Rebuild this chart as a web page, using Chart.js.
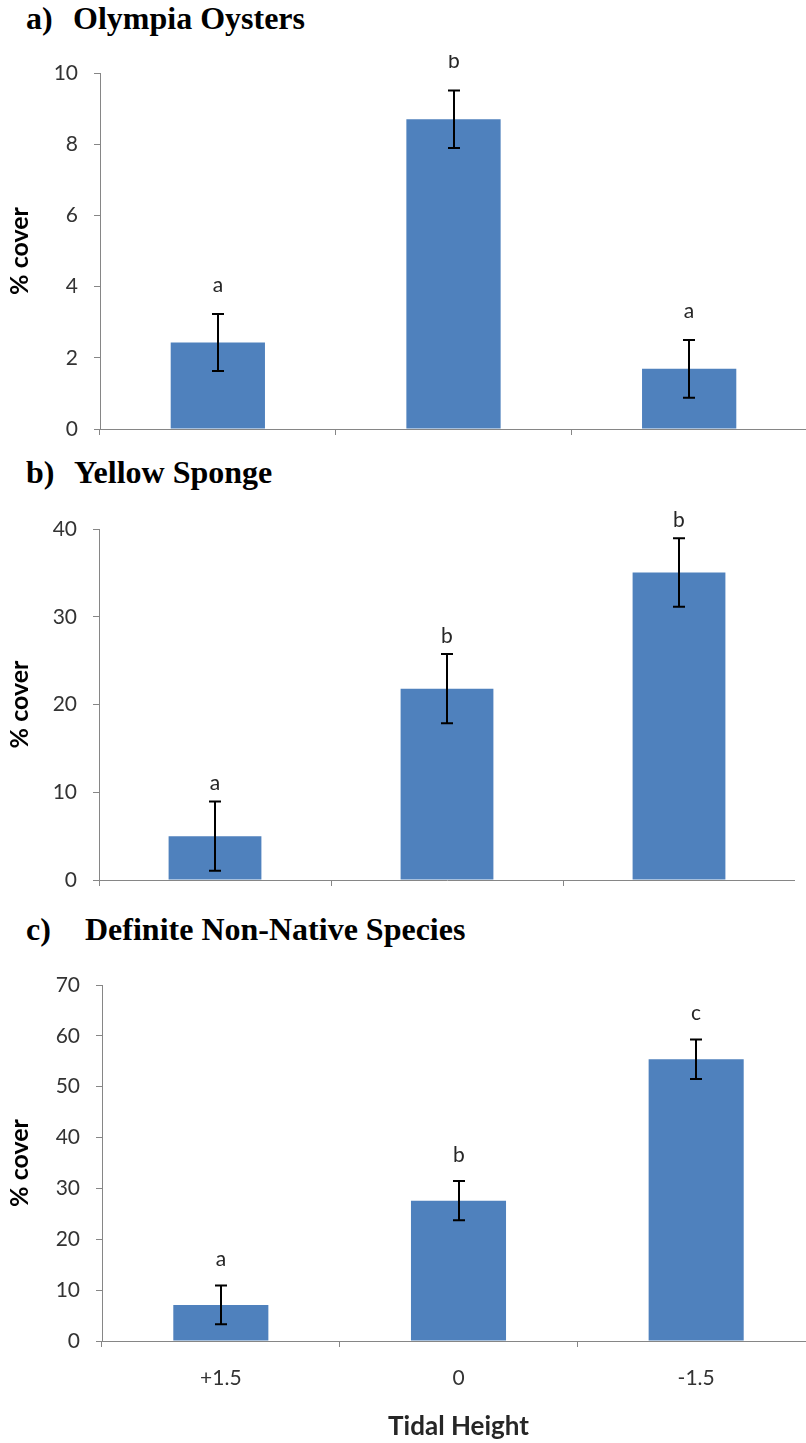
<!DOCTYPE html>
<html><head><meta charset="utf-8">
<script src="https://cdn.jsdelivr.net/npm/chart.js@4"></script>
<style>
html,body{margin:0;padding:0;width:806px;height:1443px;overflow:hidden;background:#fff;}
.t{position:absolute;font-family:"Liberation Serif","Times New Roman",serif;font-weight:bold;font-size:32px;line-height:32px;color:#000;white-space:nowrap;}
canvas{position:absolute;left:0;}
</style></head><body>
<div class="t" style="left:26px;top:2px">a)</div><div class="t" style="left:73px;top:2px">Olympia Oysters</div>
<div class="t" style="left:26px;top:456px">b)</div><div class="t" style="left:74px;top:456px">Yellow Sponge</div>
<div class="t" style="left:26px;top:913px">c)</div><div class="t" style="left:85px;top:913px">Definite Non-Native Species</div>
<canvas id="ca" width="807" height="395" style="top:55px"></canvas>
<canvas id="cb" width="795" height="395" style="top:505px"></canvas>
<canvas id="cc" width="815" height="483" style="top:960px"></canvas>
<script>
const categories = ['+1.5', '0', '-1.5'];

const oysterMeans = [2.43, 8.70, 1.69];
const oysterErrors = [0.80, 0.81, 0.81];
const oysterLetters = ['a', 'b', 'a'];
const oysterTicks = [0, 2, 4, 6, 8, 10];

const spongeMeans = [5.0, 21.8, 35.05];
const spongeErrors = [3.95, 3.95, 3.9];
const spongeLetters = ['a', 'b', 'b'];
const spongeTicks = [0, 10, 20, 30, 40];

const nonNativeMeans = [7.1, 27.6, 55.4];
const nonNativeErrors = [3.8, 3.85, 3.87];
const nonNativeLetters = ['a', 'b', 'c'];
const nonNativeTicks = [0, 10, 20, 30, 40, 50, 60, 70];

const AXIS = '#868686';
const TXT = '#333333';

const errorBarPlugin = {
  id: 'errbars',
  afterDatasetsDraw(chart, args, opts) {
    const ctx = chart.ctx;
    const meta = chart.getDatasetMeta(0);
    const ys = chart.scales.y;
    const data = chart.data.datasets[0].data;
    ctx.save();
    meta.data.forEach((bar, i) => {
      const v = data[i], e = opts.errors[i];
      const x = Math.round(bar.x);
      const yt = ys.getPixelForValue(v + e), yb = ys.getPixelForValue(v - e);
      ctx.strokeStyle = '#000';
      ctx.lineWidth = 2;
      ctx.beginPath();
      ctx.moveTo(x, yt); ctx.lineTo(x, yb);
      ctx.moveTo(x - 6, yt); ctx.lineTo(x + 6, yt);
      ctx.moveTo(x - 6, yb); ctx.lineTo(x + 6, yb);
      ctx.stroke();
      ctx.fillStyle = '#262626';
      ctx.font = '21px Lato';
      ctx.textAlign = 'center';
      ctx.textBaseline = 'middle';
      ctx.fillText(opts.letters[i], x, yt - opts.gap);
    });
    ctx.restore();
  }
};

function makeChart(id, means, errors, letters, ticks, cfg) {
  return new Chart(document.getElementById(id), {
    type: 'bar',
    data: {
      labels: categories,
      datasets: [{ data: means, backgroundColor: '#4F81BD', borderWidth: 0,
                   barPercentage: 0.4, categoryPercentage: 1 }]
    },
    options: {
      responsive: false, animation: false, devicePixelRatio: 1,
      layout: { padding: { top: cfg.padTop, right: 0, left: 0, bottom: 0 } },
      plugins: {
        legend: { display: false }, tooltip: { enabled: false },
        errbars: { errors: errors, letters: letters, gap: cfg.gap }
      },
      scales: {
        x: {
          grid: { display: true, drawOnChartArea: false, color: AXIS, tickLength: 6, offset: true },
          border: { color: AXIS, width: 1 },
          ticks: { display: cfg.showX, font: { family: 'Lato', size: 21 }, color: TXT, padding: 19 },
          title: { display: cfg.showX, text: 'Tidal Height', color: '#262626',
                   font: { family: 'Lato', size: 26, weight: 'bold' }, padding: { top: 0, bottom: 1 } },
          afterFit(s) { s.height = cfg.xH; s.paddingLeft = 0; s.paddingRight = 0; }
        },
        y: {
          min: 0, max: ticks[ticks.length - 1],
          afterBuildTicks(s) { s.ticks = ticks.map(v => ({ value: v })); },
          grid: { drawOnChartArea: false, color: AXIS, tickLength: 6 },
          border: { color: AXIS, width: 1 },
          ticks: { font: { family: 'Lato', size: 21 }, color: TXT, padding: 16 },
          title: { display: true, text: '% cover', color: '#000',
                   font: { family: 'Lato', size: 25, weight: 'bold' }, padding: { top: 5, bottom: 0 } },
          afterFit(s) { s.width = cfg.yW; s.paddingTop = 0; s.paddingBottom = 0; }
        }
      }
    },
    plugins: [errorBarPlugin]
  });
}

function build() {
  makeChart('ca', oysterMeans, oysterErrors, oysterLetters, oysterTicks,
            { padTop: 18, xH: 21, yW: 100, gap: 29, showX: false });
  makeChart('cb', spongeMeans, spongeErrors, spongeLetters, spongeTicks,
            { padTop: 24, xH: 20, yW: 99, gap: 18, showX: false });
  makeChart('cc', nonNativeMeans, nonNativeErrors, nonNativeLetters, nonNativeTicks,
            { padTop: 25, xH: 102, yW: 102, gap: 26, showX: true });
}
Promise.all([
  document.fonts.load('21px Lato'), document.fonts.load('bold 25px Lato')
]).then(build, build);
</script>
</body></html>
